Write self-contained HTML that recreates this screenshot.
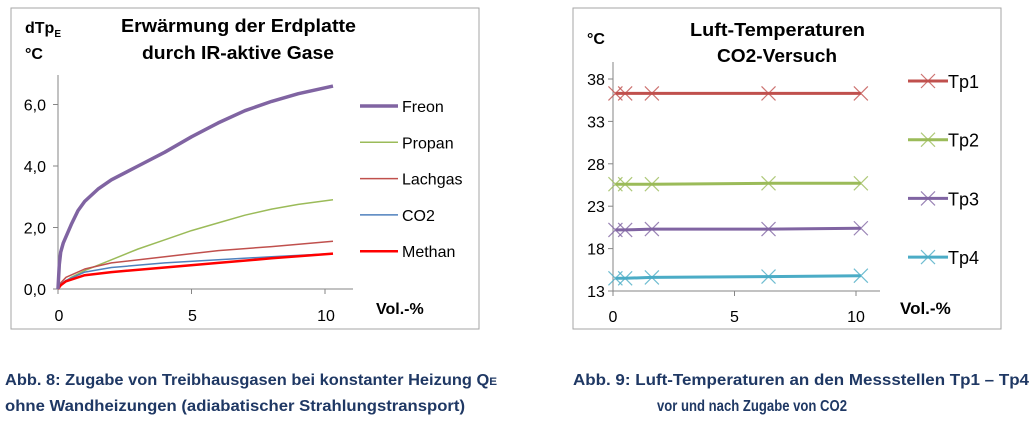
<!DOCTYPE html>
<html><head><meta charset="utf-8"><style>
body{margin:0;background:#fff;}
svg{display:block;font-family:"Liberation Sans",sans-serif;}
</style></head><body>
<svg id="s" width="1036" height="424" viewBox="0 0 1036 424">
<rect x="11" y="8" width="468" height="321" fill="#fff" stroke="#a6a6a6"/>
<rect x="573" y="8" width="428" height="321" fill="#fff" stroke="#a6a6a6"/>
<g font-weight="bold" font-size="18" fill="#000">
<text x="121" y="32" textLength="235" lengthAdjust="spacingAndGlyphs">Erwärmung der Erdplatte</text>
<text x="142" y="59" textLength="192" lengthAdjust="spacingAndGlyphs">durch IR-aktive Gase</text>
<text x="25" y="33" font-size="16">dTp<tspan font-size="10" dy="4">E</tspan></text>
<text x="25" y="59" font-size="16">°C</text>
<text x="376" y="314" font-size="16">Vol.-%</text>
<text x="690" y="36" textLength="175" lengthAdjust="spacingAndGlyphs">Luft-Temperaturen</text>
<text x="717" y="62" textLength="120" lengthAdjust="spacingAndGlyphs">CO2-Versuch</text>
<text x="587" y="44" font-size="16">°C</text>
<text x="900" y="314" font-size="17">Vol.-%</text>
</g>
<g font-weight="bold" font-size="15.5" fill="#1f3864">
<text x="5" y="385" textLength="492" lengthAdjust="spacingAndGlyphs">Abb. 8: Zugabe von Treibhausgasen bei konstanter Heizung Q<tspan font-size="11">E</tspan></text>
<text x="5" y="411" textLength="460" lengthAdjust="spacingAndGlyphs">ohne Wandheizungen (adiabatischer Strahlungstransport)</text>
<text x="573" y="385" textLength="456" lengthAdjust="spacingAndGlyphs">Abb. 9: Luft-Temperaturen an den Messstellen Tp1 – Tp4</text>
<text x="657" y="411" textLength="190" lengthAdjust="spacingAndGlyphs">vor und nach Zugabe von CO2</text>
</g>
<g id="L"></g><g id="R"></g>
</svg>
<script>
// Left chart data
const gasNames=["Freon","Propan","Lachgas","CO2","Methan"];
const gasColors=["#8064a2","#9bbb59","#c0504d","#4f81bd","#ff0000"];
const gasWidths=[3.5,1.5,1.5,1.5,2.5];
const freonX=[0,0.05,0.1,0.2,0.3,0.5,0.75,1,1.5,2,3,4,5,6,7,8,9,10.3];
const freonY=[0,0.8,1.2,1.5,1.7,2.1,2.55,2.85,3.25,3.55,4.0,4.45,4.95,5.4,5.8,6.1,6.35,6.6];
const propanX=[0,0.2,0.5,1,2,3,4,5,6,7,8,9,10.3];
const propanY=[0,0.2,0.38,0.6,0.95,1.3,1.6,1.9,2.15,2.4,2.6,2.75,2.9];
const lachgasX=[0,0.1,0.3,1,2,4,6,8,10.3];
const lachgasY=[0,0.2,0.38,0.65,0.85,1.05,1.25,1.38,1.55];
const co2X=[0,0.1,0.3,1,2,4,6,8,10.3];
const co2Y=[0,0.15,0.28,0.55,0.7,0.85,0.95,1.05,1.15];
const methanX=[0,0.1,0.3,1,2,4,6,8,10.3];
const methanY=[0,0.12,0.25,0.45,0.55,0.7,0.85,1.0,1.15];
const leftYTicks=[0,2,4,6];
const leftYLabels=["0,0","2,0","4,0","6,0"];
const leftXTicks=[0,5,10];
// Right chart data
const tpNames=["Tp1","Tp2","Tp3","Tp4"];
const tpColors=["#c0504d","#9bbb59","#8064a2","#4bacc6"];
const tpX=[0.1,0.5,1.6,6.4,10.2];
const tp1=[36.3,36.3,36.3,36.3,36.3];
const tp2=[25.6,25.6,25.6,25.7,25.7];
const tp3=[20.2,20.2,20.3,20.3,20.4];
const tp4=[14.5,14.5,14.6,14.7,14.8];
const rightYTicks=[13,18,23,28,33,38];
const rightXTicks=[0,5,10];

const NS="http://www.w3.org/2000/svg";
function mk(parent,tag,attrs){const e=document.createElementNS(NS,tag);for(const k in attrs)e.setAttribute(k,attrs[k]);parent.appendChild(e);return e;}
const L=document.getElementById("L"),R=document.getElementById("R");
const lx=v=>58+v*26.7, ly=v=>289-v*30.75;
let e=mk(L,"line",{x1:58,y1:75,x2:58,y2:289,stroke:"#868686"});


e=mk(L,"line",{x1:58,y1:289,x2:353,y2:289,stroke:"#868686"});


leftYTicks.forEach((t,i)=>{mk(L,"line",{x1:53,y1:ly(t),x2:58,y2:ly(t),stroke:"#868686"});
 const tx=mk(L,"text",{x:46,y:ly(t)+6,"text-anchor":"end","font-size":"16",fill:"#000"});tx.textContent=leftYLabels[i];
 
 });
leftXTicks.forEach(t=>{mk(L,"line",{x1:lx(t),y1:289,x2:lx(t),y2:294,stroke:"#868686"});
 const tx=mk(L,"text",{x:lx(t)+1,y:321,"text-anchor":"middle","font-size":"16",fill:"#000"});tx.textContent=t;
 
 });
const gasX=[freonX,propanX,lachgasX,co2X,methanX],gasY=[freonY,propanY,lachgasY,co2Y,methanY];
const order=[1,2,3,4,0];
order.forEach(i=>{const d=gasX[i].map((x,j)=>(j?"L":"M")+lx(x).toFixed(1)+","+ly(gasY[i][j]).toFixed(1)).join("");
 const p=mk(L,"path",{d:d,fill:"none",stroke:gasColors[i],"stroke-width":gasWidths[i],"stroke-linejoin":"round"});
 
 });
gasNames.forEach((n,i)=>{const y=106+i*36.3;
 const g=mk(L,"g",{});
 
 
 mk(g,"line",{x1:360,y1:y,x2:398,y2:y,stroke:gasColors[i],"stroke-width":gasWidths[i]});
 const t=mk(g,"text",{x:402,y:y+6,"font-size":"16",fill:"#000"});t.textContent=n;});
const rx=v=>613+v*24.3, ry=v=>291-(v-13)*8.48;
e=mk(R,"line",{x1:613,y1:62,x2:613,y2:291,stroke:"#868686"});


e=mk(R,"line",{x1:613,y1:291,x2:880,y2:291,stroke:"#868686"});


rightYTicks.forEach(t=>{mk(R,"line",{x1:608,y1:ry(t),x2:613,y2:ry(t),stroke:"#868686"});
 const tx=mk(R,"text",{x:596,y:ry(t)+6,"text-anchor":"middle","font-size":"16",fill:"#000"});tx.textContent=t;
 
 });
rightXTicks.forEach(t=>{mk(R,"line",{x1:rx(t),y1:291,x2:rx(t),y2:296,stroke:"#868686"});
 const tx=mk(R,"text",{x:rx(t),y:322,"text-anchor":"middle","font-size":"16",fill:"#000"});tx.textContent=t;
 
 });
function cross(g,x,y,c){mk(g,"path",{d:`M${x-7},${y-7}L${x+7},${y+7}M${x-7},${y+7}L${x+7},${y-7}`,stroke:c,"stroke-width":1.2,"stroke-opacity":0.8});}
const tps=[tp1,tp2,tp3,tp4];
tps.forEach((s,i)=>{const g=mk(R,"g",{});
 
 
 mk(g,"path",{d:tpX.map((x,j)=>(j?"L":"M")+rx(x).toFixed(1)+","+ry(s[j]).toFixed(1)).join(""),fill:"none",stroke:tpColors[i],"stroke-width":3});
 tpX.forEach((x,j)=>cross(g,rx(x),ry(s[j]),tpColors[i]));});
tpNames.forEach((n,i)=>{const y=81+i*58.7;const g=mk(R,"g",{});
 
 
 mk(g,"line",{x1:908,y1:y,x2:948,y2:y,stroke:tpColors[i],"stroke-width":3});
 cross(g,928,y,tpColors[i]);
 const t=mk(g,"text",{x:948,y:y+7,"font-size":"18",fill:"#000"});t.textContent=n;});
</script>
</body></html>
